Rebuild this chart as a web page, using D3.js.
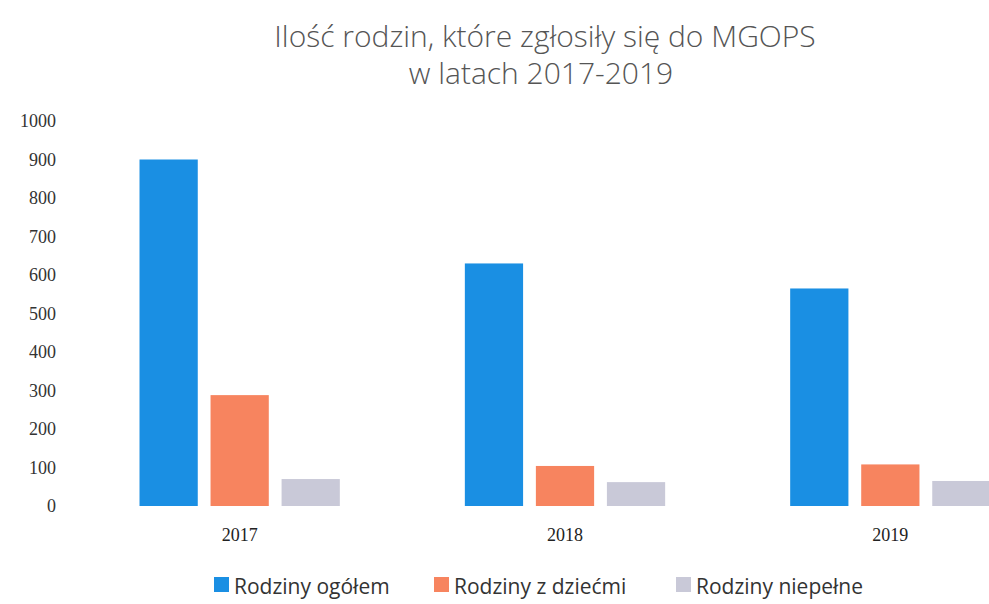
<!DOCTYPE html>
<meta charset="utf-8">
<head>
<title>Ilość rodzin MGOPS</title>
</head>
<style>
body { margin: 0; background: #fff; }
.title { font-family: 'Open Sans', sans-serif; font-size: 30px; font-weight: 300; fill: #555; }
.tick text { font-family: 'Liberation Serif', serif; font-size: 18px; fill: #333; }
.cat { font-family: 'Liberation Serif', serif; font-size: 18px; fill: #222; }
.leg { font-family: 'Open Sans', sans-serif; font-size: 21px; fill: #333; }
</style>
<body>
<svg width="989" height="604"></svg>
<script src="https://d3js.org/d3.v7.min.js"></script>
<script>

// data
var years = ['2017', '2018', '2019'];
var series = ['Rodziny ogółem', 'Rodziny z dziećmi', 'Rodziny niepełne'];
var ogolem = [900, 630, 565];
var zDziecmi = [288, 104, 108];
var niepelne = [70, 62, 65];
var yTicks = [0, 100, 200, 300, 400, 500, 600, 700, 800, 900, 1000];
var colors = ['#1a8fe3', '#f7845f', '#c9c9d8'];

var values = [ogolem, zDziecmi, niepelne];
var svg = d3.select('svg');

var x = d3.scaleBand().domain(years).range([77, 1053]);
var xs = d3.scaleBand().domain(series).range([0, x.bandwidth()]).paddingInner(0.18).paddingOuter(0.88);
var y = d3.scaleLinear().domain([0, 1000]).range([506, 121]);

// title
svg.append('text').attr('class', 'title').attr('x', 545).attr('y', 47)
  .attr('text-anchor', 'middle').text('Ilość rodzin, które zgłosiły się do MGOPS');
svg.append('text').attr('class', 'title').attr('x', 541).attr('y', 84)
  .attr('text-anchor', 'middle').text('w latach 2017-2019');

// y axis, labels only
var ya = svg.append('g').attr('transform', 'translate(62,0)')
  .call(d3.axisLeft(y).tickValues(yTicks).tickFormat(d3.format('d')).tickSize(0).tickPadding(6));
ya.select('.domain').remove();

// bars
years.forEach(function(yr, i) {
  var g = svg.append('g').attr('transform', 'translate(' + x(yr) + ',0)');
  g.selectAll('rect').data(series).enter().append('rect')
    .attr('x', function(d) { return xs(d); })
    .attr('width', xs.bandwidth())
    .attr('y', function(d, j) { return y(values[j][i]); })
    .attr('height', function(d, j) { return y(0) - y(values[j][i]); })
    .attr('fill', function(d, j) { return colors[j]; });
  g.append('text').attr('class', 'cat')
    .attr('x', x.bandwidth() / 2).attr('y', 541)
    .attr('text-anchor', 'middle').text(yr);
});

// legend
var legX = [214, 434, 676];
var leg = svg.selectAll('.lg').data(series).enter().append('g')
  .attr('transform', function(d, i) { return 'translate(' + legX[i] + ',577)'; });
leg.append('rect').attr('width', 15).attr('height', 15).attr('fill', function(d, i) { return colors[i]; });
leg.append('text').attr('class', 'leg').attr('x', 20).attr('y', 17).text(function(d) { return d; });

</script>
</body>
</html>
